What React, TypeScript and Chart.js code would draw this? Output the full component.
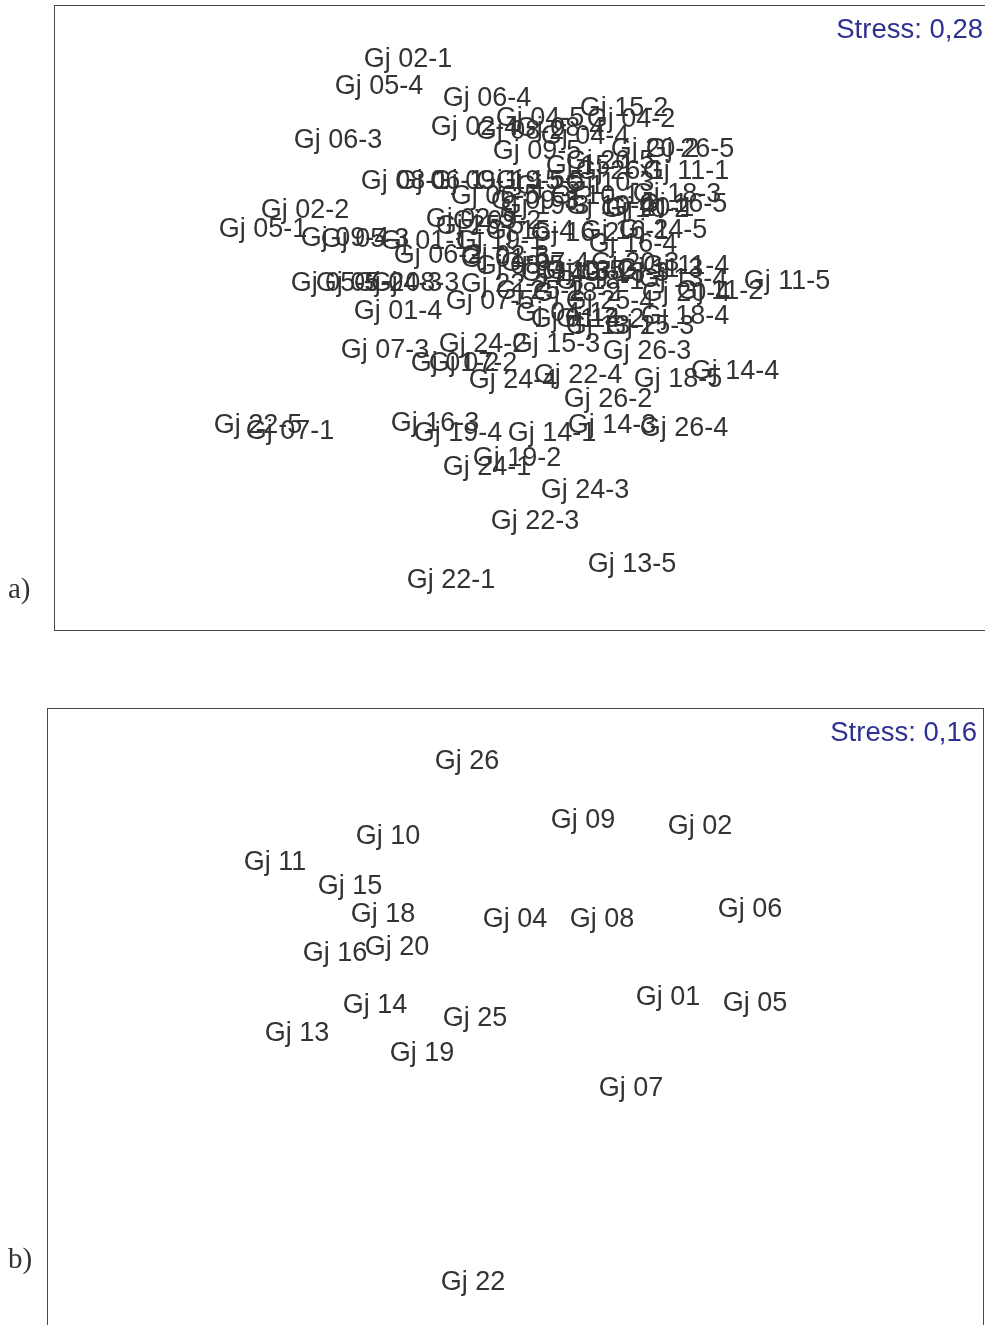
import React, { useEffect, useRef } from "react";
import { Chart, registerables } from "chart.js";

Chart.register(...registerables);

// ---------- Panel a) : samples (site-replicate) ----------
const A_NAMES = [
  "Gj 01-1", "Gj 01-2", "Gj 01-3", "Gj 01-4", "Gj 01-5",
  "Gj 02-1", "Gj 02-2", "Gj 02-3", "Gj 02-4", "Gj 02-5",
  "Gj 04-1", "Gj 04-2", "Gj 04-3", "Gj 04-4", "Gj 04-5",
  "Gj 05-1", "Gj 05-2", "Gj 05-3", "Gj 05-4", "Gj 05-5",
  "Gj 06-1", "Gj 06-2", "Gj 06-3", "Gj 06-4", "Gj 06-5",
  "Gj 07-1", "Gj 07-2", "Gj 07-3", "Gj 07-4", "Gj 07-5",
  "Gj 08-1", "Gj 08-2", "Gj 08-3", "Gj 08-4", "Gj 08-5",
  "Gj 09-1", "Gj 09-2", "Gj 09-3", "Gj 09-4", "Gj 09-5",
  "Gj 10-1", "Gj 10-2", "Gj 10-3", "Gj 10-4", "Gj 10-5",
  "Gj 11-1", "Gj 11-2", "Gj 11-3", "Gj 11-4", "Gj 11-5",
  "Gj 13-1", "Gj 13-2", "Gj 13-3", "Gj 13-4", "Gj 13-5",
  "Gj 14-1", "Gj 14-2", "Gj 14-3", "Gj 14-4", "Gj 14-5",
  "Gj 15-1", "Gj 15-2", "Gj 15-3", "Gj 15-4", "Gj 15-5",
  "Gj 16-1", "Gj 16-2", "Gj 16-3", "Gj 16-4", "Gj 16-5",
  "Gj 18-1", "Gj 18-2", "Gj 18-3", "Gj 18-4", "Gj 18-5",
  "Gj 19-1", "Gj 19-2", "Gj 19-3", "Gj 19-4", "Gj 19-5",
  "Gj 20-1", "Gj 20-2", "Gj 20-3", "Gj 20-4", "Gj 20-5",
  "Gj 22-1", "Gj 22-2", "Gj 22-3", "Gj 22-4", "Gj 22-5",
  "Gj 24-1", "Gj 24-2", "Gj 24-3", "Gj 24-4", "Gj 24-5",
  "Gj 25-1", "Gj 25-2", "Gj 25-3", "Gj 25-4", "Gj 25-5",
  "Gj 26-1", "Gj 26-2", "Gj 26-3", "Gj 26-4", "Gj 26-5",
];

const A_NMDS1 = [
  -0.475, -0.325, 0.275, -0.61, -0.075,
  -0.56, -1.075, -0.075, -0.225, -0.25,
  0.2, 0.555, -0.61, 0.325, 0.1,
  -1.285, -0.8, -0.775, -0.705, -0.925,
  -0.4, -0.41, -0.91, -0.165, -0.125,
  -1.15, -0.235, -0.675, 0.125, -0.15,
  -0.575, 0.0, -0.525, 0.2, 0.0,
  -0.225, -0.115, 0.075, -0.875, 0.085,
  0.375, 0.625, 0.45, 0.45, 0.3,
  0.83, 1.0, 0.7, 0.83, 1.335,
  0.45, 0.35, 0.525, 0.815, 0.56,
  0.16, 0.4, 0.46, 1.075, 0.225,
  0.35, 0.52, 0.18, 0.05, 0.1,
  0.525, 0.275, -0.425, 0.565, 0.815,
  0.4, 0.285, 0.785, 0.825, 0.79,
  -0.1, -0.015, 0.125, -0.31, 0.0,
  0.65, 0.675, 0.575, 0.83, 0.45,
  -0.345, -0.075, 0.075, 0.29, -1.31,
  -0.165, -0.185, 0.325, -0.035, 0.715,
  0.2, 0.1, 0.65, 0.45, -0.2,
  0.5, 0.44, 0.635, 0.82, 0.85,
];

const A_NMDS2 = [
  0.39, -0.22, 0.0, 0.04, 0.3,
  1.3, 0.545, 0.315, 0.96, 0.5,
  0.03, 1.0, 0.18, 0.915, 1.005,
  0.45, 0.18, 0.4, 1.165, 0.18,
  0.69, 0.32, 0.895, 1.105, 0.615,
  -0.56, -0.22, -0.155, 0.28, 0.09,
  0.69, 0.94, 0.18, 0.955, 0.265,
  0.69, 0.49, 0.59, 0.405, 0.84,
  0.615, 0.55, 0.68, 0.565, 0.24,
  0.74, 0.14, 0.25, 0.265, 0.19,
  -0.035, 0.24, 0.23, 0.2, -1.225,
  -0.57, 0.0, -0.53, -0.26, 0.23,
  0.765, 1.055, -0.125, 0.44, 0.69,
  0.44, 0.43, -0.52, 0.375, 0.575,
  0.19, 0.13, 0.625, 0.015, -0.3,
  0.39, -0.695, 0.565, -0.57, 0.69,
  0.555, 0.85, 0.28, 0.13, 0.79,
  -1.305, 0.175, -1.01, -0.28, -0.53,
  -0.74, -0.125, -0.855, -0.305, 0.445,
  0.665, 0.14, -0.035, 0.09, 0.465,
  0.74, -0.4, -0.16, -0.545, 0.85,
];

const A_STRESS = "Stress: 0,28";

// ---------- Panel b) : sites ----------
const B_NAMES = [
  "Gj 26", "Gj 10", "Gj 09", "Gj 02", "Gj 11", "Gj 15", "Gj 18", "Gj 04",
  "Gj 08", "Gj 06", "Gj 16", "Gj 20", "Gj 14", "Gj 01", "Gj 05", "Gj 25",
  "Gj 13", "Gj 19", "Gj 07", "Gj 22",
];
const B_NMDS1 = [
  -0.265, -0.66, 0.315, 0.9, -1.225, -0.85, -0.685, -0.025,
  0.41, 1.15, -0.925, -0.615, -0.725, 0.74, 1.175, -0.225,
  -1.115, -0.49, 0.555, -0.235,
];
const B_NMDS2 = [
  1.2, 0.825, 0.905, 0.875, 0.695, 0.575, 0.435, 0.41,
  0.41, 0.46, 0.24, 0.27, -0.02, 0.02, -0.01, -0.085,
  -0.16, -0.26, -0.435, -1.405,
];
const B_STRESS = "Stress: 0,16";

const LABEL_FONT = '27px "Liberation Sans", Arial, sans-serif';
const STRESS_FONT = '27.5px "Liberation Sans", Arial, sans-serif';
const LABEL_COLOR = "#333333";
const STRESS_COLOR = "#2e3192";

type PanelProps = {
  names: string[];
  xs: number[];
  ys: number[];
  xMin: number;
  xMax: number;
  yMin: number;
  yMax: number;
  width: number;
  height: number;
  top: number;
  padding: { left: number; right: number; top: number; bottom: number };
  stress: string;
  panel: string;
  panelBaseline: number;
};

function NmdsPanel(p: PanelProps) {
  const ref = useRef<HTMLCanvasElement | null>(null);

  useEffect(() => {
    if (!ref.current) return;
    const labelsPlugin = {
      id: "nmdsLabels",
      afterDatasetsDraw(chart: any) {
        const { ctx, chartArea } = chart;
        const ca = chartArea;
        ctx.save();
        // frame
        ctx.strokeStyle = "#4a4a4a";
        ctx.lineWidth = 1;
        ctx.strokeRect(
          Math.round(ca.left) + 0.5,
          Math.round(ca.top) + 0.5,
          Math.round(ca.right - ca.left) - 1,
          Math.round(ca.bottom - ca.top) - 1
        );
        // labels at points
        ctx.save();
        ctx.beginPath();
        ctx.rect(ca.left, ca.top, ca.right - ca.left, ca.bottom - ca.top);
        ctx.clip();
        ctx.font = LABEL_FONT;
        ctx.fillStyle = LABEL_COLOR;
        ctx.textAlign = "center";
        ctx.textBaseline = "middle";
        const meta = chart.getDatasetMeta(0);
        meta.data.forEach((el: any, i: number) => {
          ctx.fillText(p.names[i], el.x, el.y + 2);
        });
        ctx.restore();
        // stress
        ctx.font = STRESS_FONT;
        ctx.fillStyle = STRESS_COLOR;
        ctx.textAlign = "right";
        ctx.textBaseline = "middle";
        ctx.fillText(p.stress, ca.right - 7, ca.top + 25);
        // panel letter
        ctx.font = '29px "Liberation Serif", "Times New Roman", serif';
        ctx.fillStyle = "#333333";
        ctx.textAlign = "left";
        ctx.textBaseline = "alphabetic";
        ctx.fillText(p.panel, 8, p.panelBaseline);
        ctx.restore();
      },
    };

    const chart = new Chart(ref.current, {
      type: "scatter",
      data: {
        datasets: [
          {
            data: p.xs.map((x, i) => ({ x, y: p.ys[i] })),
            pointRadius: 0,
            pointHoverRadius: 0,
            borderWidth: 0,
          },
        ],
      },
      options: {
        responsive: false,
        animation: false,
        events: [],
        layout: { padding: p.padding },
        scales: {
          x: { type: "linear", display: false, min: p.xMin, max: p.xMax },
          y: { type: "linear", display: false, min: p.yMin, max: p.yMax },
        },
        plugins: {
          legend: { display: false },
          tooltip: { enabled: false },
        },
      },
      plugins: [labelsPlugin],
    } as any);
    return () => chart.destroy();
  }, []);

  return (
    <canvas
      ref={ref}
      width={p.width}
      height={p.height}
      style={{ position: "absolute", left: 0, top: p.top, width: p.width, height: p.height }}
    />
  );
}

export default function App() {
  return (
    <div
      style={{
        position: "absolute",
        left: 0,
        top: 0,
        width: 985,
        height: 1325,
        overflow: "hidden",
        background: "#ffffff",
      }}
    >
      <NmdsPanel
        names={A_NAMES}
        xs={A_NMDS1}
        ys={A_NMDS2}
        xMin={-2.33}
        xMax={2.35}
        yMin={-1.565}
        yMax={1.565}
        width={1000}
        height={640}
        top={0}
        padding={{ left: 54, right: 10, top: 5, bottom: 9 }}
        stress={A_STRESS}
        panel="a)"
        panelBaseline={598}
      />
      <NmdsPanel
        names={B_NAMES}
        xs={B_NMDS1}
        ys={B_NMDS2}
        xMin={-2.365}
        xMax={2.32}
        yMin={-1.75}
        yMax={1.46}
        width={1000}
        height={660}
        top={700}
        padding={{ left: 47, right: 16, top: 8, bottom: 10 }}
        stress={B_STRESS}
        panel="b)"
        panelBaseline={568}
      />
    </div>
  );
}
